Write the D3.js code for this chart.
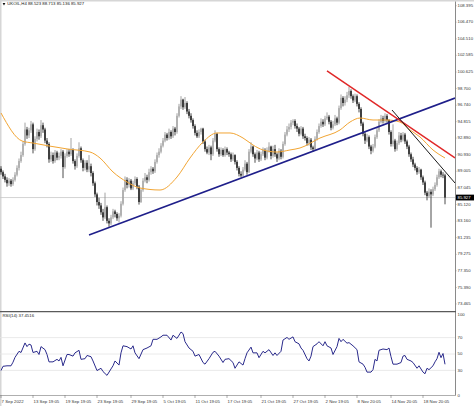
<!DOCTYPE html>
<html>
<head>
<meta charset="utf-8">
<script src="https://cdn.jsdelivr.net/npm/d3@7"></script>
<style>
html,body{margin:0;padding:0;background:#fff;}
svg{display:block;}
text{font-family:"Liberation Sans",Arial,sans-serif;}
</style>
</head>
<body>
<svg id="chart" width="474" height="406"></svg>
<script>
// ---------- DATA ----------
const symbolTitle = "UKOIL,H4 88.523 88.713 85.136 85.927";
const rsiTitle = "RSI(14) 37.4516";
const lastPrice = 85.927;

const opens = [
89.3,88.9,88.4,88.0,87.6,87.9,87.5,88.0,88.6,89.4,
90.2,90.9,92.2,93.9,93.2,93.8,94.5,91.6,92.8,93.6,
93.1,94.4,93.9,92.6,92.2,90.4,90.9,90.2,91.2,90.6,
90.8,91.3,89.5,90.8,91.3,91.0,91.5,90.2,89.6,90.8,
91.7,90.3,89.4,90.0,89.2,89.6,88.8,87.6,86.3,85.4,
85.0,84.2,83.6,84.8,83.2,82.9,83.6,84.3,84.0,83.5,
83.8,85.2,86.8,88.0,87.4,87.9,87.0,87.6,88.1,87.2,
85.4,86.8,87.9,88.3,88.0,88.9,89.3,89.0,90.1,90.9,
91.3,92.0,92.6,93.3,92.9,93.6,93.1,94.0,93.6,95.5,
96.6,97.4,96.5,97.0,96.0,95.5,95.0,94.3,93.5,93.1,
93.6,94.0,92.5,91.6,91.2,91.8,91.0,92.6,93.4,91.6,
91.0,91.5,90.9,91.6,91.2,91.0,90.4,90.9,90.1,89.4,
88.7,88.5,89.2,89.9,88.9,91.3,91.9,91.0,90.5,91.2,
90.4,91.0,91.5,90.6,91.4,91.9,90.8,91.6,91.0,90.5,
91.4,90.7,92.2,93.3,93.9,94.2,94.7,94.9,94.3,94.0,
93.4,94.0,93.1,92.9,92.3,92.7,91.8,91.6,92.8,93.6,
94.3,94.8,94.5,95.2,95.4,94.8,94.1,94.5,95.2,94.7,
96.4,97.6,97.0,97.4,97.9,98.4,97.8,97.3,97.8,96.9,
96.3,94.6,93.4,92.6,93.0,91.9,91.4,91.9,93.0,93.8,
94.8,95.2,94.9,95.5,95.0,93.6,92.2,92.6,91.6,92.3,
93.2,92.7,93.3,92.5,91.9,91.0,90.4,89.8,89.4,88.9,
89.2,88.3,87.7,86.5,86.1,86.6,86.3,86.9,87.4,88.3,
89.0,88.6,88.523];

const highs = [
89.6,89.1,88.7,88.3,88.2,88.1,88.3,88.9,89.7,90.5,
91.3,92.5,94.7,94.2,94.1,94.9,94.7,93.1,94.0,93.9,
95.0,94.7,94.1,92.9,92.4,91.3,91.2,91.5,91.4,91.2,
91.6,91.5,91.1,91.6,91.6,92.9,91.7,90.4,91.1,92.4,
91.9,90.5,90.3,90.3,90.9,89.9,89.0,87.8,86.5,85.9,
85.3,84.6,86.5,85.0,83.5,83.9,84.6,84.5,84.2,84.1,
85.5,87.1,88.4,88.3,88.2,88.1,87.9,88.4,88.3,87.4,
87.0,88.2,88.8,88.6,89.3,89.6,89.5,90.4,91.2,91.7,
92.3,92.9,93.6,93.5,94.0,93.8,94.3,94.2,95.8,96.9,
97.8,97.5,97.7,97.2,96.3,95.8,95.2,94.5,93.8,93.9,
94.1,94.1,92.7,91.9,92.1,92.0,92.9,93.8,93.5,91.8,
91.8,91.7,91.9,91.8,91.4,91.2,91.2,91.0,90.3,89.6,
89.0,89.5,90.3,90.1,91.6,92.4,92.0,91.2,91.5,91.4,
91.3,91.8,91.7,91.8,92.4,92.0,92.0,92.1,91.2,91.7,
91.6,92.5,93.6,94.3,94.6,95.0,95.1,95.1,94.6,94.2,
94.3,94.2,93.4,93.1,93.0,92.9,92.0,93.1,93.9,94.6,
95.2,95.1,95.5,95.9,95.6,95.0,94.9,95.6,95.4,96.7,
98.0,97.8,97.8,98.3,98.9,98.6,98.0,98.1,98.0,97.1,
96.5,94.8,93.6,93.4,93.2,92.1,92.2,93.3,94.2,95.1,
95.6,95.5,95.8,95.7,95.1,93.8,94.5,92.8,92.6,93.6,
93.5,93.6,93.5,92.7,92.1,91.2,90.7,90.0,89.6,89.5,
89.3,88.5,87.9,86.7,87.0,86.9,87.2,87.7,88.6,89.3,
89.2,88.9,88.713];

const lows = [
88.6,88.1,87.7,87.2,87.3,87.2,87.3,87.8,88.4,89.1,
90.0,90.7,92.0,92.8,92.9,93.5,91.1,91.4,92.5,92.7,
92.9,93.5,92.3,91.8,90.0,90.1,89.9,90.0,90.3,90.3,
90.5,88.2,89.3,90.6,90.7,90.8,89.9,89.2,89.4,90.6,
90.0,89.0,89.1,88.9,88.9,88.4,87.3,86.0,85.0,84.6,
83.9,83.2,83.4,82.9,82.5,82.7,83.4,83.6,83.2,83.0,
83.6,85.0,86.6,87.0,87.1,86.8,86.8,87.4,86.9,85.1,
85.3,86.6,87.7,87.6,87.8,88.6,88.7,88.8,89.9,90.6,
91.1,91.8,92.4,92.6,92.7,92.8,92.9,93.2,93.4,95.3,
96.3,96.2,96.3,95.7,95.2,94.7,94.0,93.2,92.9,92.9,
93.3,92.2,91.3,91.0,90.9,90.3,90.8,92.4,91.3,90.7,
90.8,90.7,90.7,90.9,90.7,90.1,90.2,89.8,89.1,88.4,
88.3,88.4,89.0,88.6,88.8,91.1,90.7,90.0,90.3,90.1,
90.2,90.8,90.3,90.4,91.2,90.4,90.6,90.7,90.1,90.3,
90.4,90.5,92.0,93.1,93.6,93.9,94.4,94.0,93.6,93.1,
93.2,92.8,92.6,92.0,92.0,91.5,91.3,91.4,92.6,93.4,
94.1,94.2,94.3,95.0,94.5,93.8,93.9,94.3,94.4,94.5,
96.2,96.6,96.7,97.1,97.6,97.5,97.0,97.1,96.6,95.9,
94.3,93.1,92.2,92.4,91.6,91.0,91.2,91.7,92.8,93.6,
94.6,94.6,94.7,94.7,93.3,91.9,91.9,91.3,91.4,92.1,
92.4,92.5,92.2,91.6,90.7,90.1,89.5,89.1,88.6,88.7,
88.0,87.4,86.2,85.6,85.9,82.4,86.1,86.7,87.2,88.1,
88.3,88.2,85.136];

const closes = [
88.9,88.4,88.0,87.6,87.9,87.5,88.0,88.6,89.4,90.2,
90.9,92.2,93.9,93.2,93.8,94.5,91.6,92.8,93.6,93.1,
94.4,93.9,92.6,92.2,90.4,90.9,90.2,91.2,90.6,90.8,
91.3,89.5,90.8,91.3,91.0,91.5,90.2,89.6,90.8,91.7,
90.3,89.4,90.0,89.2,89.6,88.8,87.6,86.3,85.4,85.0,
84.2,83.6,84.8,83.2,82.9,83.6,84.3,84.0,83.5,83.8,
85.2,86.8,88.0,87.4,87.9,87.0,87.6,88.1,87.2,85.4,
86.8,87.9,88.3,88.0,88.9,89.3,89.0,90.1,90.9,91.3,
92.0,92.6,93.3,92.9,93.6,93.1,94.0,93.6,95.5,96.6,
97.4,96.5,97.0,96.0,95.5,95.0,94.3,93.5,93.1,93.6,
94.0,92.5,91.6,91.2,91.8,91.0,92.6,93.4,91.6,91.0,
91.5,90.9,91.6,91.2,91.0,90.4,90.9,90.1,89.4,88.7,
88.5,89.2,89.9,88.9,91.3,91.9,91.0,90.5,91.2,90.4,
91.0,91.5,90.6,91.4,91.9,90.8,91.6,91.0,90.5,91.4,
90.7,92.2,93.3,93.9,94.2,94.7,94.9,94.3,94.0,93.4,
94.0,93.1,92.9,92.3,92.7,91.8,91.6,92.8,93.6,94.3,
94.8,94.5,95.2,95.4,94.8,94.1,94.5,95.2,94.7,96.4,
97.6,97.0,97.4,97.9,98.4,97.8,97.3,97.8,96.9,96.3,
94.6,93.4,92.6,93.0,91.9,91.4,91.9,93.0,93.8,94.8,
95.2,94.9,95.5,95.0,93.6,92.2,92.6,91.6,92.3,93.2,
92.7,93.3,92.5,91.9,91.0,90.4,89.8,89.4,88.9,89.2,
88.3,87.7,86.5,86.1,86.6,86.3,86.9,87.4,88.3,89.0,
88.6,88.52,85.927];

// moving average (read at sample bars)
const maBars   = [0,10.5,16,33,44.5,49.5,56,63,69.5,79.5,88,94.5,101,108,114.5,121,126,131,138,144.5,149.5,159.5,169.5,174.5,179.5,186,193,199.5,204.5,209.5,216,222];
const maValues = [95.83,92.55,92.31,91.62,91.26,90.56,88.92,87.75,87.05,86.81,88.33,90.56,92.43,93.49,93.49,92.90,92.08,91.50,91.26,91.50,91.73,92.90,93.84,94.77,95.24,95.01,95.01,94.77,93.84,93.02,91.50,90.56];

// RSI(14) read at sample bars
const rsiBars = [0,1,3,5,6,7,9,10,12,13,14,15,16,18,19,20,22,23,24,26,28,29,30,31,33,34,36,37,39,40,42,43,45,46,48,50,51,53,55,56,57,59,60,61,63,65,66,67,69,71,73,75,76,78,80,81,83,85,86,88,90,91,92,94,96,97,99,101,102,104,106,107,109,111,112,114,116,117,119,121,122,123,125,126,128,129,131,132,134,136,137,138,140,141,143,144,146,147,149,150,151,153,154,155,156,158,159,161,162,163,165,166,168,169,170,171,173,174,176,178,179,181,182,183,185,186,187,188,189,191,193,194,195,196,198,200,201,202,203,205,206,208,209,211,212,213,214,216,217,218,219,220,221,222];
const rsiValues = [29.8,35,35.6,35.6,40,45.9,53.3,51.8,63.5,59,62,61,51.8,53.3,49.4,59,55.3,49.4,40.4,40.4,43.5,41.5,45.9,35.6,49.4,49.4,47.4,51.4,54.5,43.5,44.3,48.2,46.7,41.5,29.8,32.6,28.6,23.9,31.8,35.6,41.5,36.5,51.4,60,59,56.1,60,51.4,44.3,55.3,57.3,60,67.9,67.9,70.9,72.9,72.9,67,72.9,69,76.8,74.9,65,57.3,53.3,47.4,49.4,39.6,37.6,44.3,52.1,53.3,47.4,39.6,43.5,44.3,39.6,32.6,40.4,36.5,44.3,51.4,58.4,51.4,51.4,45.5,53.3,51.4,55.3,48.2,51.4,48.2,53.3,67,70.2,67.9,70.9,65,62.4,57.3,54.5,44.3,41.5,47.4,59,62.4,65,60,65,60,57.3,49.4,59,69,65,67.9,63.2,63.9,60,55.3,40.4,37.6,33.8,27.9,27.9,30.9,43.5,41.5,54.5,56.1,55.3,57.3,46.7,37.6,37.6,39.6,47.4,48.2,43.5,41.5,39.6,32.6,35.6,27.9,25.9,32.6,30.9,35.6,40.4,44.3,52.1,45.5,50.6,37.45];
const rsiLevels = [70, 50, 30];
const rsiTicks = [100, 70, 50, 30, 0];

// trend lines: [bar, price] end points
const blueLine  = [[44, 81.54], [227, 97.58]];
const redLine   = [[163, 100.75], [227, 90.56]];
const blackLine = [[195.5, 96.18], [227, 87.63]];

const priceTicks = [108.395,106.470,104.510,102.585,100.625,98.700,96.740,94.815,92.890,90.930,89.005,87.045,85.120,83.160,81.235,79.275,77.350,75.390,73.465];

const timeLabelBars = [0,16,32,48,65,81,97,113,130,146,162,178,195,211];
const timeLabels = ["7 Sep 2022","13 Sep 19:05","19 Sep 19:05","23 Sep 19:05","29 Sep 19:05","5 Oct 19:05","11 Oct 19:05","17 Oct 19:05","21 Oct 19:05","27 Oct 19:05","2 Nov 19:05","8 Nov 20:05","14 Nov 20:05","18 Nov 20:05"];

// ---------- LAYOUT ----------
const W = 474, H = 406;
const plotR = 455;
const mainTop = 1.5, mainBot = 311;
const rsiTop = 313, rsiBot = 395;
const fs = 4.3;

const svg = d3.select("#chart");

const x = d3.scaleLinear().domain([0, 222]).range([1, 445]);
const y = d3.scaleLinear().domain([72.64, 108.887]).range([mainBot, mainTop]);
const yr = d3.scaleLinear().domain([0, 100]).range([rsiBot, rsiTop]);

const defs = svg.append("defs");
defs.append("clipPath").attr("id","cMain").append("rect")
  .attr("x",0).attr("y",mainTop).attr("width",plotR).attr("height",mainBot-mainTop);
defs.append("clipPath").attr("id","cRsi").append("rect")
  .attr("x",0).attr("y",rsiTop).attr("width",plotR).attr("height",rsiBot-rsiTop);

svg.append("rect").attr("width",W).attr("height",H).attr("fill","#fff");

// frame strips
svg.append("rect").attr("x",0).attr("y",0).attr("width",W).attr("height",1.5).attr("fill","#d6d6d6");
svg.append("rect").attr("x",0).attr("y",0).attr("width",1.5).attr("height",H).attr("fill","#d6d6d6");

const gMain = svg.append("g").attr("clip-path","url(#cMain)");

// last price line
gMain.append("line").attr("x1",0).attr("x2",plotR)
  .attr("y1",y(lastPrice)).attr("y2",y(lastPrice))
  .attr("stroke","#c8c8c8").attr("stroke-width",0.8);

// candles
const idx = d3.range(closes.length);
const bull = i => closes[i] >= opens[i];
gMain.append("g").selectAll("line").data(idx).join("line")
  .attr("x1", i => x(i)).attr("x2", i => x(i))
  .attr("y1", i => y(highs[i])).attr("y2", i => y(lows[i]))
  .attr("stroke", i => bull(i) ? "#8c8c8c" : "#1e1e1e")
  .attr("stroke-width", 0.8);
gMain.append("g").selectAll("rect").data(idx).join("rect")
  .attr("x", i => x(i) - 0.75).attr("width", 1.5)
  .attr("y", i => y(Math.max(opens[i], closes[i])))
  .attr("height", i => Math.max(0.6, Math.abs(y(opens[i]) - y(closes[i]))))
  .attr("fill", i => bull(i) ? "#a8a8a8" : "#1e1e1e");

// moving average
gMain.append("path")
  .attr("d", d3.line().x((d,i) => x(maBars[i])).y(d => y(d)).curve(d3.curveMonotoneX)(maValues))
  .attr("fill","none").attr("stroke","#f2a533").attr("stroke-width",1);

// trend lines
function tl(pts, col, w){
  gMain.append("line")
    .attr("x1", x(pts[0][0])).attr("y1", y(pts[0][1]))
    .attr("x2", x(pts[1][0])).attr("y2", y(pts[1][1]))
    .attr("stroke", col).attr("stroke-width", w);
}
tl(blueLine, "#1f1f8a", 1.6);
tl(redLine, "#e02828", 1.5);
tl(blackLine, "#1a1a1a", 1);

// header
svg.append("path").attr("d","M2.6,3 L5.4,3 L4,5.4 Z").attr("fill","#111");
svg.append("text").attr("x",7.2).attr("y",4.3).attr("dominant-baseline","middle")
  .attr("font-size",fs).attr("fill","#111").text(symbolTitle);

// right price axis
svg.append("line").attr("x1",plotR+0.5).attr("x2",plotR+0.5).attr("y1",mainTop).attr("y2",rsiBot)
  .attr("stroke","#8a8a8a").attr("stroke-width",1);
svg.append("g").selectAll("text").data(priceTicks).join("text")
  .attr("x", plotR + 2.5).attr("y", d => y(d)).attr("dominant-baseline","middle")
  .attr("font-size", fs).attr("fill","#333").text(d => d.toFixed(3));
svg.append("g").selectAll("line").data(priceTicks).join("line")
  .attr("x1", plotR).attr("x2", plotR + 1.6).attr("y1", d => y(d)).attr("y2", d => y(d))
  .attr("stroke","#8a8a8a").attr("stroke-width",0.6);

// last price tag
svg.append("rect").attr("x",plotR+1).attr("y",y(lastPrice)-2.9).attr("width",W-plotR-1).attr("height",5.8).attr("fill","#000");
svg.append("text").attr("x",plotR+2.5).attr("y",y(lastPrice)).attr("dominant-baseline","middle")
  .attr("font-size",fs).attr("fill","#fff").text(lastPrice.toFixed(3));

// separator
svg.append("line").attr("x1",0).attr("x2",plotR+1).attr("y1",mainBot+0.7).attr("y2",mainBot+0.7)
  .attr("stroke","#5a5a5a").attr("stroke-width",1.3);

// RSI panel
const gR = svg.append("g").attr("clip-path","url(#cRsi)");
gR.selectAll("line.lv").data(rsiLevels).join("line")
  .attr("x1",0).attr("x2",plotR).attr("y1", d => yr(d)).attr("y2", d => yr(d))
  .attr("stroke","#e4e4e4").attr("stroke-width",0.8);
gR.append("path")
  .attr("d", d3.line().x((d,i) => x(rsiBars[i])).y(d => yr(d))(rsiValues))
  .attr("fill","none").attr("stroke","#2b2b8c").attr("stroke-width",1);

svg.append("text").attr("x",2.5).attr("y",315.5).attr("dominant-baseline","middle")
  .attr("font-size",fs).attr("fill","#222").text(rsiTitle);

svg.append("g").selectAll("text").data(rsiTicks).join("text")
  .attr("x", plotR + 2.5).attr("y", d => d === 100 ? yr(d) + 1.5 : (d === 0 ? yr(d) + 1 : yr(d)))
  .attr("dominant-baseline","middle")
  .attr("font-size", fs).attr("fill","#333").text(d => d);

// bottom axis
svg.append("line").attr("x1",0).attr("x2",plotR+1).attr("y1",rsiBot+0.5).attr("y2",rsiBot+0.5)
  .attr("stroke","#9a9a9a").attr("stroke-width",0.8);
svg.append("g").selectAll("line").data(timeLabelBars).join("line")
  .attr("x1", d => x(d)).attr("x2", d => x(d)).attr("y1", rsiBot).attr("y2", rsiBot + 3)
  .attr("stroke","#777").attr("stroke-width",0.6);
svg.append("g").selectAll("text").data(timeLabels).join("text")
  .attr("x", (d,i) => x(timeLabelBars[i]) + 0.6).attr("y", 401.5).attr("dominant-baseline","middle")
  .attr("font-size", fs).attr("fill","#333").text(d => d);
</script>
</body>
</html>
